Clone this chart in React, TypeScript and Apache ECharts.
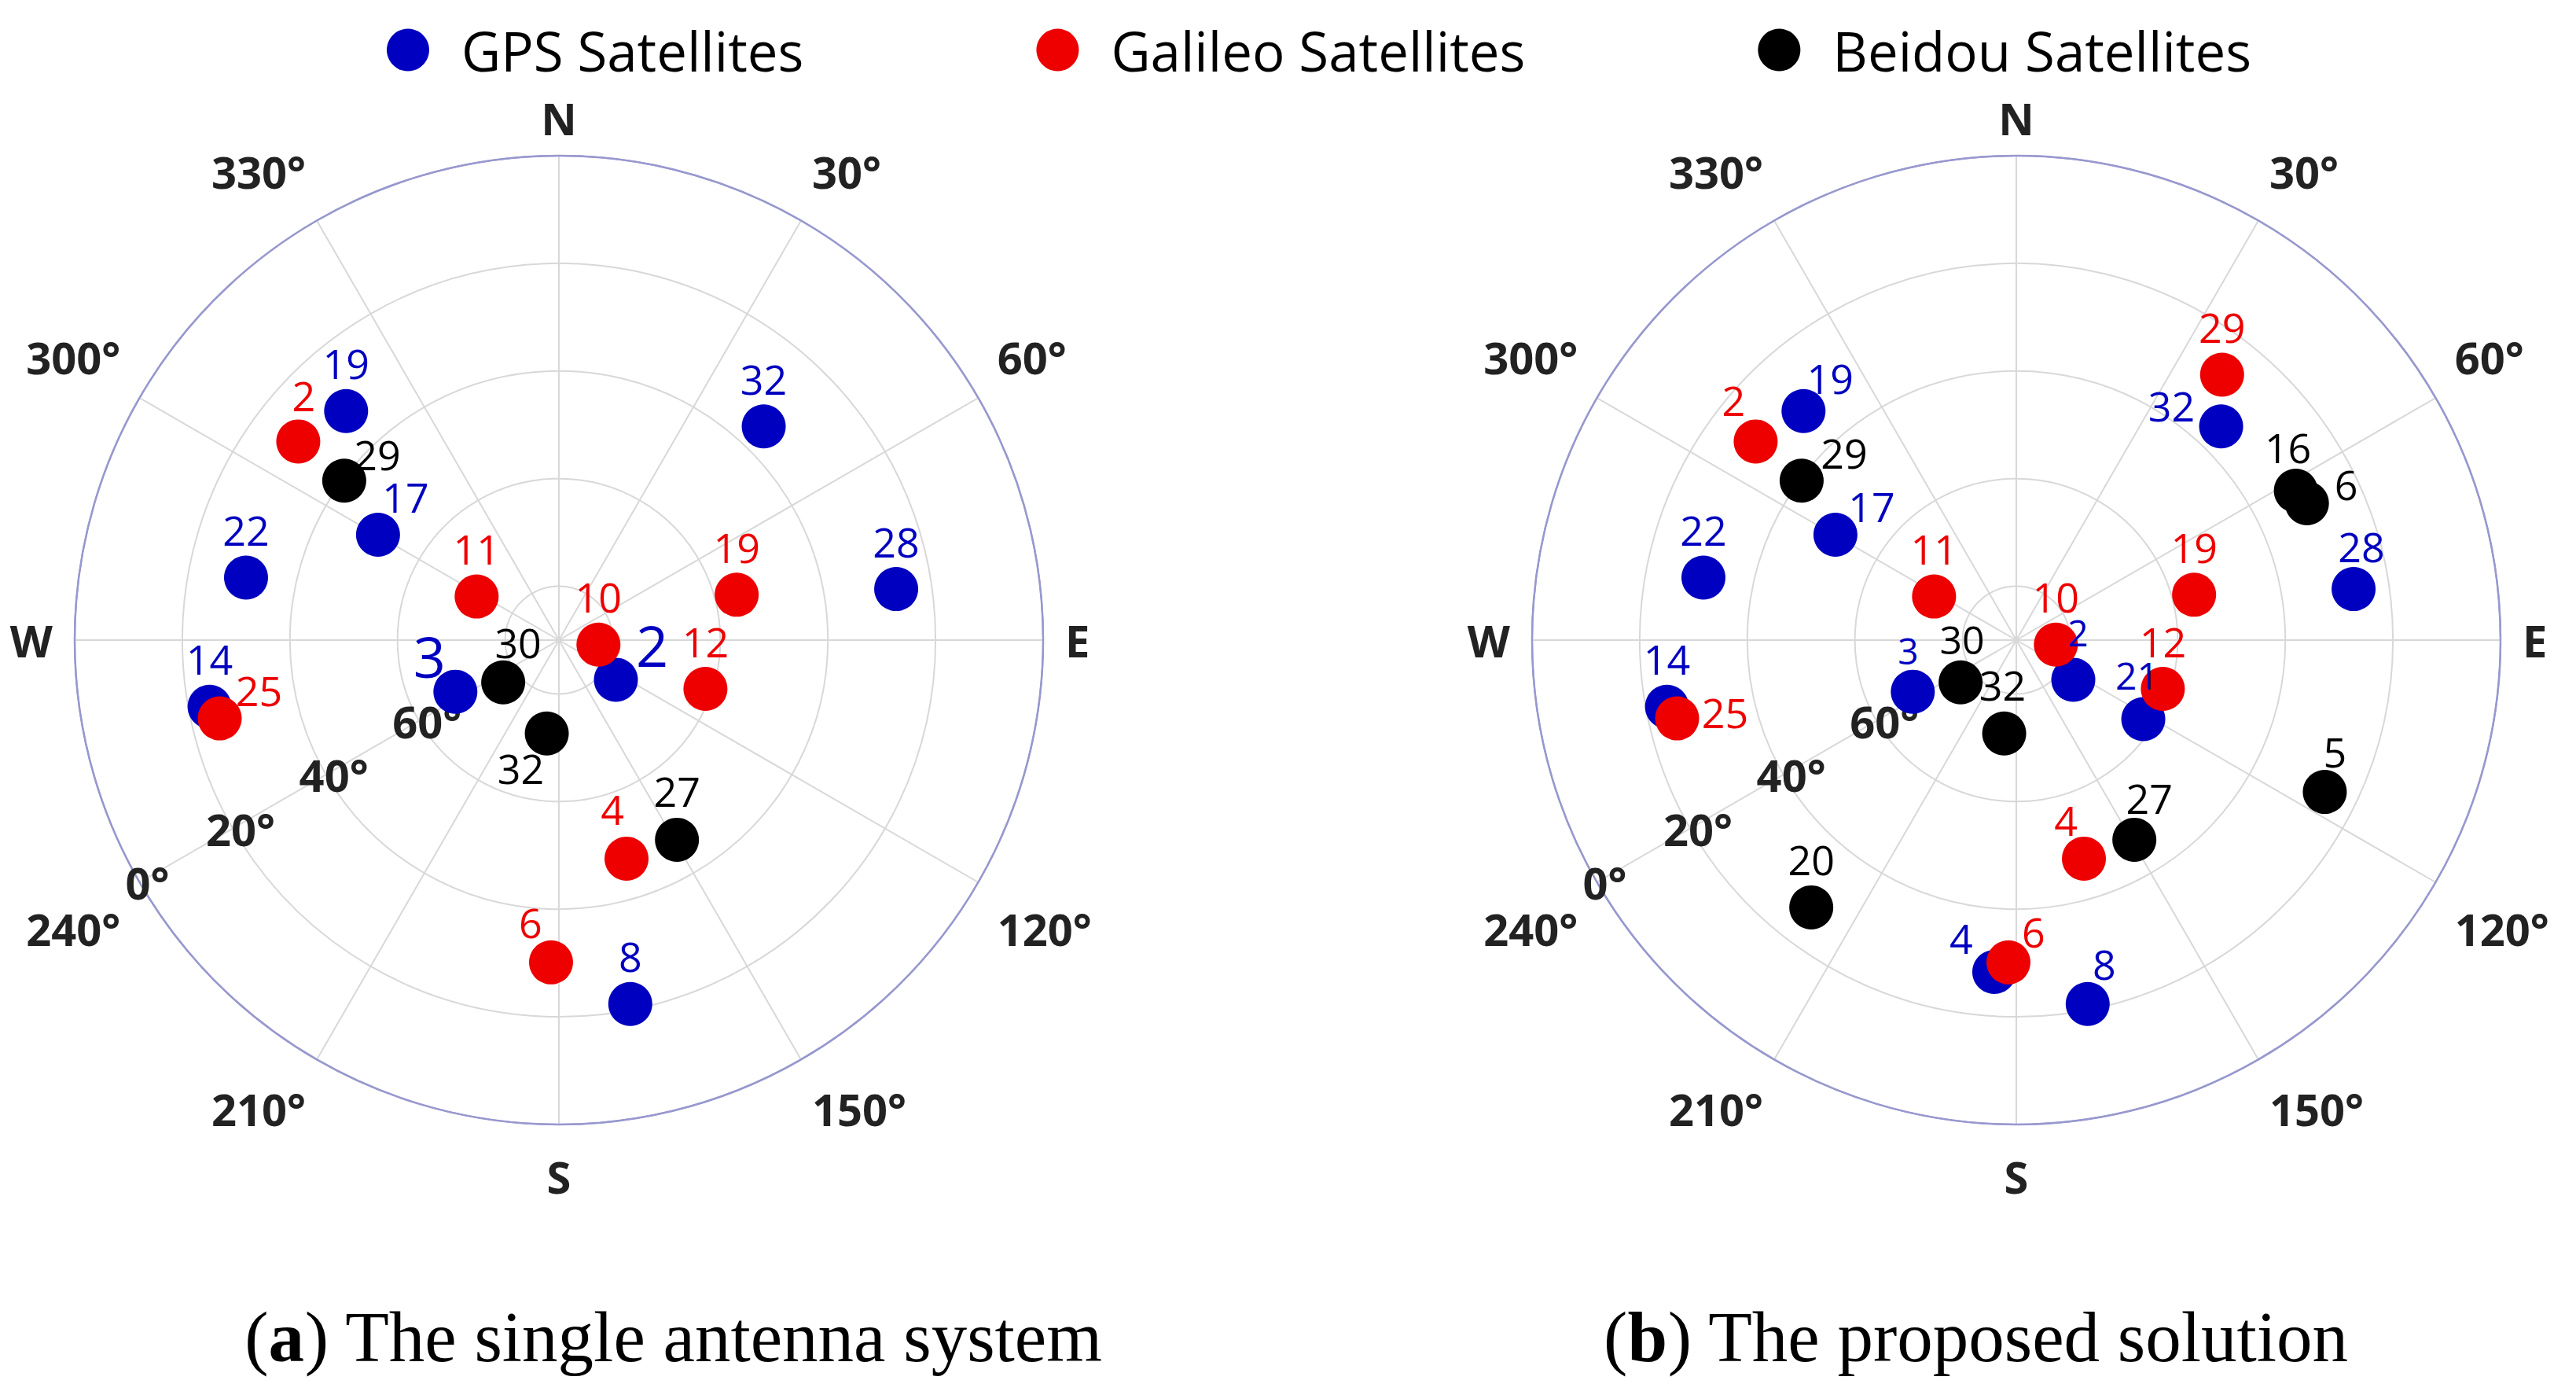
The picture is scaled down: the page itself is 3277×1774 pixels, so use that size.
import React, { useEffect, useRef } from "react";
import * as echarts from "echarts";

// ---------- DATA ----------
// Panel (a): the single antenna system  [PRN, elevation(°), azimuth(°)]
const gpsA_prn = [19, 17, 22, 32, 28, 2, 3, 14, 8];
const gpsA_el = [31.9, 51.1, 30.7, 35.0, 26.6, 77.1, 68.5, 23.9, 21.1];
const gpsA_az = [317.1, 300.2, 281.3, 43.8, 81.4, 124.8, 243.5, 259.2, 168.9];

const galA_prn = [2, 11, 19, 10, 12, 25, 4, 6];
const galA_el = [29.1, 72.7, 55.9, 82.6, 61.3, 25.3, 47.5, 30.1];
const galA_az = [307.3, 297.9, 75.7, 96.5, 108.4, 257.0, 162.8, 181.4];

const beiA_prn = [29, 30, 32, 27];
const beiA_el = [40.3, 77.0, 72.5, 46.9];
const beiA_az = [306.6, 232.8, 187.4, 149.4];

// Panel (b): the proposed solution
const gpsB_prn = [19, 17, 22, 32, 28, 2, 21, 3, 14, 4, 8];
const gpsB_el = [31.9, 51.1, 30.7, 35.0, 26.6, 77.1, 62.2, 68.5, 23.9, 28.2, 21.1];
const gpsB_az = [317.1, 300.2, 281.3, 43.8, 81.4, 124.8, 121.9, 243.5, 259.2, 183.8, 168.9];

const galB_prn = [29, 2, 11, 19, 10, 12, 25, 4, 6];
const galB_el = [27.6, 29.1, 72.7, 55.9, 82.6, 61.3, 25.3, 47.5, 30.1];
const galB_az = [37.8, 307.3, 297.9, 75.7, 96.5, 108.4, 257.0, 162.8, 181.4];

const beiB_prn = [29, 16, 6, 30, 32, 5, 27, 20];
const beiB_el = [40.3, 31.1, 30.3, 77.0, 72.5, 26.1, 46.9, 27.4];
const beiB_az = [306.6, 61.9, 64.8, 232.8, 187.4, 116.2, 149.4, 217.5];

const seriesNames = ["GPS Satellites", "Galileo Satellites", "Beidou Satellites"];
const compassLabels: Record<number, string> = { 0: "N", 90: "E", 180: "S", 270: "W" };
const elevationTickLabels = [0, 20, 40, 60];
const captionA = ["a", "The single antenna system"];
const captionB = ["b", "The proposed solution"];

// ---------- STYLE (label placement relative to marker, px) ----------
const DEFAULT_OFF: [number, number] = [0, -61];
const offA: Record<string, Record<number, [number, number]>> = {
  gps: { 17: [35, -49], 2: [46, -44], 3: [-33, -46] },
  gal: { 2: [7, -59], 25: [50, -36], 4: [-18, -63], 6: [-26, -51] },
  bei: { 29: [42, -34], 30: [19, -51], 32: [-33, 44], 27: [0, -62] },
};
const offB: Record<string, Record<number, [number, number]>> = {
  gps: { 19: [34, -42], 17: [46, -37], 32: [-63, -27], 28: [10, -55], 2: [6, -60], 21: [-8, -56], 3: [-6, -53], 4: [-42, -44], 8: [21, -51] },
  gal: { 2: [-28, -53], 25: [61, -8], 4: [-23, -49], 6: [32, -39] },
  bei: { 29: [54, -36], 16: [-10, -56], 6: [50, -25], 30: [2, -55], 5: [13, -52], 27: [19, -53], 32: [-2, -62] },
};
const sizeA: Record<string, Record<number, number>> = { gps: { 2: 72, 3: 72 }, gal: {}, bei: {} };
const sizeB: Record<string, Record<number, number>> = { gps: { 2: 46, 3: 46, 21: 48 }, gal: {}, bei: { 30: 50 } };

const COLORS = { gps: "#0000c0", gal: "#ee0000", bei: "#000000" };
const LAVENDER = "#9898cf";
const GRID = "#d8d8d8";
const AXIS_TEXT = "#222";
const CENTERS: [number, number][] = [[711, 814], [2565, 814]];
const RADIUS = 616;

// per-angle line heights nudge the angular labels in or out, as in the reference
const angleLineHeight: Record<number, number> = {
  0: 40, 30: 76, 60: 76, 90: 56, 120: 90, 150: 76, 180: 76, 210: 76, 240: 90, 270: 56, 300: 76, 330: 76,
};

function makeSeries(
  key: "gps" | "gal" | "bei",
  name: string,
  polarIndex: number,
  prn: number[],
  el: number[],
  az: number[],
  offs: Record<number, [number, number]>,
  sizes: Record<number, number>
) {
  return {
    type: "scatter",
    name,
    coordinateSystem: "polar",
    polarIndex,
    symbol: "circle",
    symbolSize: 56,
    itemStyle: { color: COLORS[key], opacity: 1 },
    emphasis: { disabled: true },
    label: {
      show: true,
      position: "inside",
      formatter: "{b}",
      color: COLORS[key],
      fontFamily: "Open Sans",
      fontSize: 52,
    },
    data: prn.map((p, i) => ({
      name: String(p),
      value: [el[i], az[i]],
      label: {
        offset: offs[p] || DEFAULT_OFF,
        fontSize: sizes[p] || 52,
      },
    })),
  };
}

const angleRich: Record<string, any> = {};
Object.keys(angleLineHeight).forEach((k) => {
  angleRich["a" + k] = {
    fontSize: 56,
    fontWeight: "bold",
    fontFamily: "Open Sans",
    color: AXIS_TEXT,
    lineHeight: angleLineHeight[Number(k)],
  };
});

const angleFormatter = (v: number) => {
  const txt = compassLabels[v] !== undefined ? compassLabels[v] : `${v}°`;
  return angleLineHeight[v] !== undefined ? `{a${v}|${txt}}` : txt;
};

export default function App() {
  const ref = useRef<HTMLDivElement>(null);
  useEffect(() => {
    if (!ref.current) return;
    const chart = echarts.init(ref.current, undefined, { renderer: "svg" });
    const angleAxisMain = (polarIndex: number) => ({
      polarIndex,
      type: "value",
      min: 0,
      max: 360,
      interval: 30,
      startAngle: 90,
      clockwise: true,
      axisLine: { show: true, lineStyle: { color: LAVENDER, width: 2.5 } },
      axisTick: { show: false },
      splitLine: { show: true, lineStyle: { color: GRID, width: 2 } },
      axisLabel: {
        formatter: angleFormatter,
        margin: 28,
        fontSize: 56,
        fontWeight: "bold",
        fontFamily: "Open Sans",
        color: AXIS_TEXT,
        rich: angleRich,
      },
    });
    const angleAxisLbl = (polarIndex: number) => ({
      polarIndex,
      type: "value",
      min: 0,
      max: 360,
      startAngle: 210,
      clockwise: true,
      show: false,
    });
    const radiusMain = (polarIndex: number) => ({
      polarIndex,
      type: "value",
      min: 0,
      max: 90,
      interval: 20,
      inverse: true,
      axisLine: { show: false },
      axisTick: { show: false },
      axisLabel: { show: false },
      splitLine: {
        show: true,
        lineStyle: { color: [LAVENDER, GRID, GRID, GRID, GRID, GRID], width: 2 },
      },
    });
    const radiusLbl = (polarIndex: number) => ({
      polarIndex,
      type: "value",
      min: 0,
      max: 90,
      interval: 20,
      inverse: true,
      axisLine: { show: false },
      axisTick: { show: false },
      splitLine: { show: false },
      axisLabel: {
        show: true,
        margin: 0,
        align: "center",
        verticalAlign: "middle",
        padding: [0, 0, 4, 20],
        formatter: (v: number) => (elevationTickLabels.includes(v) ? `${v}°` : ""),
        fontSize: 56,
        fontWeight: "bold",
        fontFamily: "Open Sans",
        color: AXIS_TEXT,
      },
    });

    const captionStyle = (parts: string[]) => ({
      text: `({b|${parts[0]}}) ${parts[1]}`,
      fontSize: 91,
      fontFamily: "Liberation Serif",
      fill: "#000",
      align: "center",
      verticalAlign: "middle",
      rich: {
        b: { fontSize: 91, fontFamily: "Liberation Serif", fontWeight: "bold", fill: "#000" },
      },
    });

    chart.setOption({
      animation: false,
      backgroundColor: "#ffffff",
      legend: {
        data: seriesNames,
        left: 487,
        top: 24,
        icon: "circle",
        itemWidth: 54,
        itemHeight: 54,
        itemGap: 296,
        selectedMode: false,
        textStyle: {
          fontSize: 69,
          fontFamily: "Open Sans",
          color: "#000",
          padding: [0, 0, 0, 36],
        },
      },
      polar: [
        { center: CENTERS[0], radius: RADIUS },
        { center: CENTERS[1], radius: RADIUS },
        { center: CENTERS[0], radius: RADIUS },
        { center: CENTERS[1], radius: RADIUS },
      ],
      angleAxis: [angleAxisMain(0), angleAxisMain(1), angleAxisLbl(2), angleAxisLbl(3)],
      radiusAxis: [radiusMain(0), radiusMain(1), radiusLbl(2), radiusLbl(3)],
      series: [
        makeSeries("gps", seriesNames[0], 0, gpsA_prn, gpsA_el, gpsA_az, offA.gps, sizeA.gps),
        makeSeries("gal", seriesNames[1], 0, galA_prn, galA_el, galA_az, offA.gal, sizeA.gal),
        makeSeries("bei", seriesNames[2], 0, beiA_prn, beiA_el, beiA_az, offA.bei, sizeA.bei),
        makeSeries("gps", seriesNames[0], 1, gpsB_prn, gpsB_el, gpsB_az, offB.gps, sizeB.gps),
        makeSeries("gal", seriesNames[1], 1, galB_prn, galB_el, galB_az, offB.gal, sizeB.gal),
        makeSeries("bei", seriesNames[2], 1, beiB_prn, beiB_el, beiB_az, offB.bei, sizeB.bei),
      ],
      graphic: [
        { type: "text", x: 857, y: 1700, style: captionStyle(captionA) },
        { type: "text", x: 2514, y: 1700, style: captionStyle(captionB) },
      ],
    });
    return () => chart.dispose();
  }, []);
  return (
    <div
      ref={ref}
      style={{ position: "absolute", left: 0, top: 0, width: 3277, height: 1774, background: "#fff" }}
    />
  );
}
